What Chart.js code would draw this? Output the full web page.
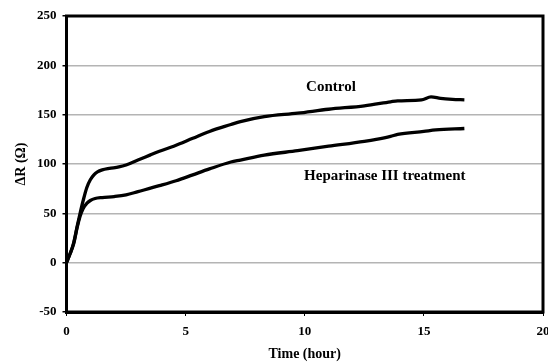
<!DOCTYPE html>
<html>
<head>
<meta charset="utf-8">
<script src="https://cdn.jsdelivr.net/npm/chart.js@4"></script>
<style>
  html, body { margin: 0; padding: 0; background: #fff; }
  #wrap { width: 548px; height: 363px; }
</style>
</head>
<body>
<div id="wrap"><canvas id="chart" width="548" height="363"></canvas></div>
<script>
// Valeurs
const controlHours = [0, 0.15, 0.3, 0.45, 0.57, 0.7, 0.85, 1.0, 1.15, 1.3, 1.5, 1.8, 2.2, 2.5, 3.0, 3.5, 3.9, 4.5, 5.3, 6.0, 6.9, 7.3, 8.3, 9.7, 11.0, 12.5, 13.6, 13.9, 14.9, 15.3, 15.7, 16.2, 16.7];
const controlValues = [0, 9, 20, 37, 50, 63, 76, 84, 89, 92, 94, 95.5, 97, 99, 104, 109, 113, 118, 126, 133, 140, 143, 148, 151.5, 155.5, 159, 163, 164, 165, 168, 166.5, 165.5, 165];

const hepHours = [0, 0.15, 0.3, 0.45, 0.57, 0.7, 0.85, 1.0, 1.2, 1.5, 2.0, 2.5, 3.0, 3.9, 4.6, 5.3, 6.0, 6.9, 7.3, 8.3, 9.7, 11.0, 12.5, 13.0, 13.6, 13.9, 15.0, 15.5, 16.7];
const hepValues = [0, 9, 19, 36, 47, 55, 60, 63, 65, 66, 67, 68.7, 72, 78, 83, 89, 95, 102, 104, 109, 113.5, 118, 123, 125, 128, 130, 133, 134.5, 136];

const xTicks = [0, 5, 10, 15, 20];
const yTicks = [-50, 0, 50, 100, 150, 200, 250];

// Étiquettes posées dans le graphique (en unités de données)
const notes = [
    { text: 'Control', x: 11.1, y: 178 },
    { text: 'Heparinase III treatment', x: 13.36, y: 88 }
];

const FONT = "'Liberation Serif', 'Times New Roman', serif";

const toPoints = (xs, ys) => xs.map((x, i) => ({ x, y: ys[i] }));

// Cadre noir épais + textes
const framePlugin = {
    id: 'frame',
    afterDatasetsDraw(chart) {
        const { ctx, chartArea: a, scales } = chart;
        ctx.save();
        ctx.strokeStyle = '#000';
        ctx.lineWidth = 3;
        ctx.strokeRect(a.left, a.top, a.right - a.left, a.bottom - a.top);
        ctx.fillStyle = '#000';
        ctx.font = 'bold 15px ' + FONT;
        ctx.textAlign = 'center';
        ctx.textBaseline = 'middle';
        notes.forEach(n => {
            ctx.fillText(n.text, scales.x.getPixelForValue(n.x), scales.y.getPixelForValue(n.y));
        });
        ctx.restore();
    }
};

new Chart(document.getElementById('chart').getContext('2d'), {
    type: 'scatter',
    data: {
        datasets: [
            {
                label: 'Control',
                data: toPoints(controlHours, controlValues),
                showLine: true,
                borderColor: '#000',
                borderWidth: 3.3,
                pointRadius: 0,
                cubicInterpolationMode: 'monotone'
            },
            {
                label: 'Heparinase III treatment',
                data: toPoints(hepHours, hepValues),
                showLine: true,
                borderColor: '#000',
                borderWidth: 3.3,
                pointRadius: 0,
                cubicInterpolationMode: 'monotone'
            }
        ]
    },
    options: {
        responsive: false,
        animation: false,
        layout: { padding: { top: 16, right: 5, left: 0, bottom: 0 } },
        plugins: {
            legend: { display: false },
            tooltip: { enabled: false }
        },
        scales: {
            x: {
                type: 'linear',
                min: 0,
                max: 20,
                afterBuildTicks: s => { s.ticks = xTicks.map(v => ({ value: v })); },
                afterFit: s => { s.height = 51; s.paddingLeft = 0; s.paddingRight = 0; },
                ticks: {
                    color: '#000',
                    padding: 8,
                    maxRotation: 0,
                    font: { family: FONT, size: 13, weight: 'bold' }
                },
                grid: {
                    drawOnChartArea: false,
                    drawTicks: true,
                    tickLength: 4,
                    tickColor: '#000'
                },
                border: { color: '#000', width: 3 },
                title: {
                    display: true,
                    text: 'Time (hour)',
                    color: '#000',
                    padding: { top: 4, bottom: 0 },
                    font: { family: FONT, size: 14, weight: 'bold' }
                }
            },
            y: {
                min: -50,
                max: 250,
                afterBuildTicks: s => { s.ticks = yTicks.map(v => ({ value: v })); },
                afterFit: s => { s.width = 66.5; s.paddingTop = 0; s.paddingBottom = 0; },
                ticks: {
                    color: '#000',
                    padding: 6,
                    font: { family: FONT, size: 13, weight: 'bold' }
                },
                grid: {
                    color: '#b4b4b4',
                    lineWidth: 1.5,
                    drawTicks: true,
                    tickLength: 4,
                    tickColor: '#000'
                },
                border: { color: '#000', width: 3 },
                title: {
                    display: true,
                    text: 'ΔR (Ω)',
                    color: '#000',
                    padding: { top: 13, bottom: 0 },
                    font: { family: FONT, size: 14, weight: 'bold' }
                }
            }
        }
    },
    plugins: [framePlugin]
});
</script>
</body>
</html>
